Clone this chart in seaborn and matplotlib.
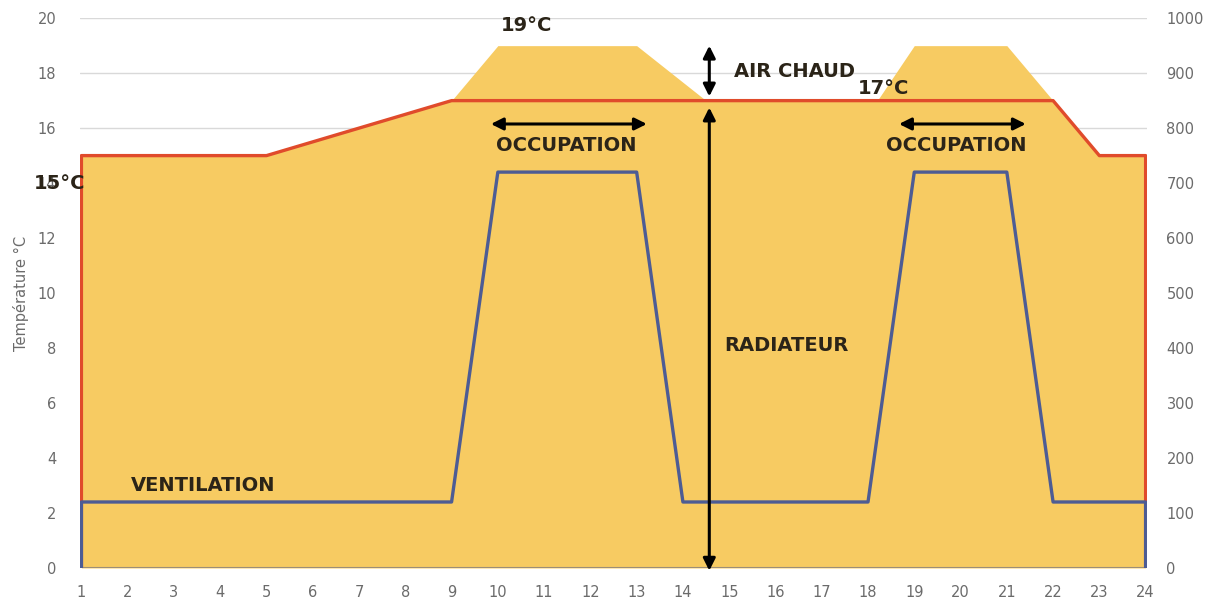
import matplotlib
matplotlib.use("Agg")
import matplotlib.pyplot as plt
import seaborn as sns
import pandas as pd

# Heating setpoint (°C) over the day
setpoint_hours = [1, 1, 5, 9, 22, 23, 24, 24]
setpoint_temp = [0, 15, 15, 17, 17, 15, 15, 0]

# Supplied temperature including warm-air boost during occupation
supply_hours = [1, 5, 9, 10, 13, 14.5, 18.2, 19, 21, 22, 23, 24]
supply_temp = [15, 15, 17, 19, 19, 17, 17, 19, 19, 17, 15, 15]

# Ventilation airflow (right axis)
vent_hours = [1, 1, 9, 10, 13, 14, 18, 19, 21, 22, 24, 24]
vent_flow = [0, 120, 120, 720, 720, 120, 120, 720, 720, 120, 120, 0]

hour_ticks = list(range(1, 25))
temp_ticks = list(range(0, 21, 2))
flow_ticks = list(range(0, 1001, 100))

FILL = "#F7CB62"
RED = "#E04B2B"
BLUE = "#4D5C94"
INK = "#2B2418"
GREY = "#6B6B6B"

sns.set_theme(style="white")
plt.rcParams["font.family"] = ["DejaVu Sans"]

fig = plt.figure(figsize=(12.07, 6.05), dpi=100)
ax = fig.add_axes([0.0663, 0.0612, 0.884, 0.9088])

# Warm area
ax.fill_between(supply_hours, supply_temp, 0, color=FILL, lw=0, zorder=1)

sp = pd.DataFrame({"heure": setpoint_hours, "temp": setpoint_temp})
sns.lineplot(data=sp, x="heure", y="temp", sort=False, color=RED, lw=2.4,
             ax=ax, zorder=3, estimator=None)
ax.plot([1, 24], [0, 0], color="#9C8E78", lw=1.5, zorder=3)

ax.set_xlim(0.97, 24.03)
ax.set_ylim(0, 20)
ax.set_xticks(hour_ticks)
ax.set_yticks(temp_ticks)
ax.set_xlabel("")
ax.set_ylabel("Température °C", color=GREY, fontsize=10.5, labelpad=6)
ax.yaxis.grid(True, color="#D9D9D9", lw=1)
ax.set_axisbelow(True)
for s in ax.spines.values():
    s.set_visible(False)
ax.tick_params(axis="both", colors=GREY, labelsize=10.5, length=0)
ax.tick_params(axis="y", pad=17)
ax.tick_params(axis="x", pad=12)

ax2 = ax.twinx()
vt = pd.DataFrame({"heure": vent_hours, "debit": vent_flow})
sns.lineplot(data=vt, x="heure", y="debit", sort=False, color=BLUE, lw=2.4,
             ax=ax2, zorder=4, estimator=None)
ax2.set_ylim(0, 1000)
ax2.set_yticks(flow_ticks)
ax2.set_ylabel("")
ax2.set_xlabel("")
for s in ax2.spines.values():
    s.set_visible(False)
ax2.tick_params(axis="y", colors=GREY, labelsize=10.5, length=0, pad=14)

T = ax.transData
txt = dict(color=INK, fontsize=14, fontweight="bold", transform=T, zorder=10)
arrow = dict(arrowstyle="<|-|>", color="black", lw=2.2, mutation_scale=18)

ax2.text(10.63, 19.75, "19°C", ha="center", va="center", **txt)
ax2.text(15.1, 18.05, "AIR CHAUD", ha="left", va="center", **txt)
ax2.text(18.33, 17.45, "17°C", ha="center", va="center", **txt)
ax2.text(11.47, 15.38, "OCCUPATION", ha="center", va="center", **txt)
ax2.text(19.9, 15.38, "OCCUPATION", ha="center", va="center", **txt)
ax2.text(0.53, 14.0, "15°C", ha="center", va="center", clip_on=False, **txt)
ax2.text(2.08, 3.0, "VENTILATION", ha="left", va="center", **txt)
ax2.text(14.9, 8.1, "RADIATEUR", ha="left", va="center", **txt)

ax2.annotate("", xy=(9.79, 16.15), xytext=(13.28, 16.15), xycoords=T,
             textcoords=T, arrowprops=arrow, zorder=10)
ax2.annotate("", xy=(18.61, 16.15), xytext=(21.47, 16.15), xycoords=T,
             textcoords=T, arrowprops=arrow, zorder=10)
ax2.annotate("", xy=(14.57, 16.85), xytext=(14.57, -0.2), xycoords=T,
             textcoords=T, arrowprops=arrow, zorder=10, annotation_clip=False)
ax2.annotate("", xy=(14.57, 19.1), xytext=(14.57, 17.05), xycoords=T,
             textcoords=T, arrowprops=arrow, zorder=10)

fig.savefig("out.png", dpi=100)
